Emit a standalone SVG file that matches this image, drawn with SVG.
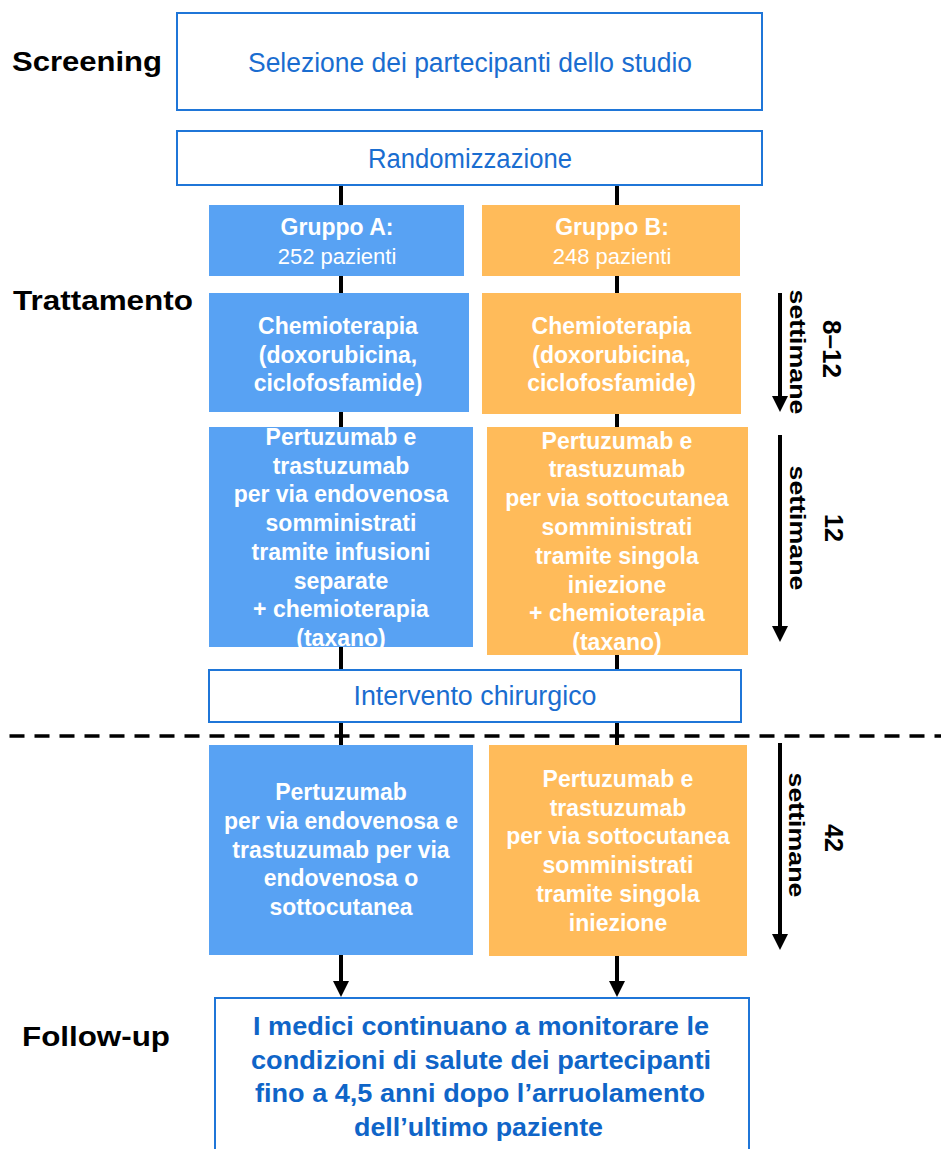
<svg xmlns="http://www.w3.org/2000/svg" width="941" height="1149" viewBox="0 0 941 1149">
<style>
.bg{fill:#ffffff}
.wbox{fill:#ffffff;stroke:#1f76d8;stroke-width:2}
.ba{fill:#58a2f3}
.bb{fill:#ffbb5a}
.side{font-family:"Liberation Sans",Arial,sans-serif;font-weight:bold;font-size:27px;fill:#000}
.btxt{font-family:"Liberation Sans",Arial,sans-serif;font-size:27px;fill:#1a6dd0;text-anchor:middle}
.wt{font-family:"Liberation Sans",Arial,sans-serif;font-weight:bold;font-size:23px;fill:#ffffff;text-anchor:middle}
.wr{font-family:"Liberation Sans",Arial,sans-serif;font-size:22px;fill:#ffffff;text-anchor:middle}
.ft{font-family:"Liberation Sans",Arial,sans-serif;font-weight:bold;font-size:26px;fill:#0f65c8;text-anchor:middle}
.dur{font-family:"Liberation Sans",Arial,sans-serif;font-weight:bold;font-size:22px;fill:#000;text-anchor:middle}
.num{font-family:"Liberation Sans",Arial,sans-serif;font-weight:bold;font-size:25px;fill:#000;text-anchor:middle}
.conn{stroke:#000;stroke-width:4;fill:none}
.dash{stroke:#000;stroke-width:3.5;stroke-dasharray:15 10;fill:none}
</style>
<defs>
<marker id="arr" viewBox="0 0 16 16" refX="1" refY="8" markerWidth="16" markerHeight="16" markerUnits="userSpaceOnUse" orient="auto">
<path d="M0,0 L16,8 L0,16 z" fill="#000"/>
</marker>
</defs>
<rect class="bg" x="0" y="0" width="941" height="1149"/>

<g id="connectors">
<line class="conn" x1="341" y1="186" x2="341" y2="982" marker-end="url(#arr)"/>
<line class="conn" x1="617" y1="186" x2="617" y2="982" marker-end="url(#arr)"/>
<line class="conn" x1="780" y1="293" x2="780" y2="397" marker-end="url(#arr)"/>
<line class="conn" x1="780" y1="435" x2="780" y2="627" marker-end="url(#arr)"/>
<line class="conn" x1="780" y1="743" x2="780" y2="935" marker-end="url(#arr)"/>
<line class="dash" x1="9.5" y1="736" x2="941" y2="736"/>
</g>

<g id="labels">
<text class="side" x="12" y="71" textLength="150" lengthAdjust="spacingAndGlyphs">Screening</text>
<text class="side" x="13" y="310" textLength="180" lengthAdjust="spacingAndGlyphs">Trattamento</text>
<text class="side" x="22" y="1046" textLength="148" lengthAdjust="spacingAndGlyphs">Follow-up</text>
</g>

<g id="duration1">
<text class="dur" transform="translate(790,352) rotate(90)" textLength="125" lengthAdjust="spacingAndGlyphs">settimane</text>
<text class="num" transform="translate(823,349) rotate(90)" textLength="58" lengthAdjust="spacingAndGlyphs">8–12</text>
</g>
<g id="duration2">
<text class="dur" transform="translate(790,528) rotate(90)" textLength="125" lengthAdjust="spacingAndGlyphs">settimane</text>
<text class="num" transform="translate(825,528) rotate(90)">12</text>
</g>
<g id="duration3">
<text class="dur" transform="translate(789,835) rotate(90)" textLength="125" lengthAdjust="spacingAndGlyphs">settimane</text>
<text class="num" transform="translate(825,838) rotate(90)">42</text>
</g>

<g id="screening">
<rect class="wbox" x="177" y="13" width="585" height="97"/>
<text class="btxt" x="470" y="72" textLength="444" lengthAdjust="spacingAndGlyphs">Selezione dei partecipanti dello studio</text>
</g>

<g id="randomizzazione">
<rect class="wbox" x="177" y="131" width="585" height="54"/>
<text class="btxt" x="470" y="168" textLength="204" lengthAdjust="spacingAndGlyphs">Randomizzazione</text>
</g>

<g id="gruppoA">
<rect class="ba" x="209" y="205" width="255" height="71"/>
<text class="wt" x="337" y="235">Gruppo A:</text>
<text class="wr" x="337" y="264">252 pazienti</text>
</g>

<g id="gruppoB">
<rect class="bb" x="482" y="205" width="258" height="71"/>
<text class="wt" x="612" y="235">Gruppo B:</text>
<text class="wr" x="612" y="264">248 pazienti</text>
</g>

<g id="chemioA">
<rect class="ba" x="209" y="293" width="260" height="119"/>
<text class="wt"><tspan x="338" y="334">Chemioterapia</tspan><tspan x="338" y="362.5">(doxorubicina,</tspan><tspan x="338" y="391">ciclofosfamide)</tspan></text>
</g>

<g id="chemioB">
<rect class="bb" x="482" y="293" width="259" height="121"/>
<text class="wt"><tspan x="611.5" y="334">Chemioterapia</tspan><tspan x="611.5" y="362.5">(doxorubicina,</tspan><tspan x="611.5" y="391">ciclofosfamide)</tspan></text>
</g>

<g id="pertA">
<rect class="ba" x="209" y="427" width="264" height="220"/>
<text class="wt"><tspan x="341" y="445">Pertuzumab e</tspan><tspan x="341" y="473.7">trastuzumab</tspan><tspan x="341" y="502.4">per via endovenosa</tspan><tspan x="341" y="531.1">somministrati</tspan><tspan x="341" y="559.8">tramite infusioni</tspan><tspan x="341" y="588.5">separate</tspan><tspan x="341" y="617.2">+ chemioterapia</tspan><tspan x="341" y="646">(taxano)</tspan></text>
</g>

<g id="pertB">
<rect class="bb" x="487" y="427" width="261" height="228"/>
<text class="wt"><tspan x="617" y="448.5">Pertuzumab e</tspan><tspan x="617" y="477.3">trastuzumab</tspan><tspan x="617" y="506.1">per via sottocutanea</tspan><tspan x="617" y="534.9">somministrati</tspan><tspan x="617" y="563.7">tramite singola</tspan><tspan x="617" y="592.5">iniezione</tspan><tspan x="617" y="621.3">+ chemioterapia</tspan><tspan x="617" y="650">(taxano)</tspan></text>
</g>

<g id="intervento">
<rect class="wbox" x="209" y="670" width="532" height="52"/>
<text class="btxt" x="475" y="705" textLength="243" lengthAdjust="spacingAndGlyphs">Intervento chirurgico</text>
</g>

<g id="postA">
<rect class="ba" x="209" y="745" width="264" height="210"/>
<text class="wt"><tspan x="341" y="800">Pertuzumab</tspan><tspan x="341" y="828.75">per via endovenosa e</tspan><tspan x="341" y="857.5">trastuzumab per via</tspan><tspan x="341" y="886.25">endovenosa o</tspan><tspan x="341" y="915">sottocutanea</tspan></text>
</g>

<g id="postB">
<rect class="bb" x="489" y="745" width="258" height="211"/>
<text class="wt"><tspan x="618" y="787">Pertuzumab e</tspan><tspan x="618" y="815.7">trastuzumab</tspan><tspan x="618" y="844.4">per via sottocutanea</tspan><tspan x="618" y="873.1">somministrati</tspan><tspan x="618" y="901.8">tramite singola</tspan><tspan x="618" y="930.5">iniezione</tspan></text>
</g>

<g id="followup">
<rect class="wbox" x="215" y="998" width="534" height="160"/>
<text class="ft" x="481" y="1035" textLength="456" lengthAdjust="spacingAndGlyphs">I medici continuano a monitorare le</text>
<text class="ft" x="481" y="1068.5" textLength="460" lengthAdjust="spacingAndGlyphs">condizioni di salute dei partecipanti</text>
<text class="ft" x="480" y="1102" textLength="450" lengthAdjust="spacingAndGlyphs">fino a 4,5 anni dopo l’arruolamento</text>
<text class="ft" x="478.5" y="1135.5" textLength="249" lengthAdjust="spacingAndGlyphs">dell’ultimo paziente</text>
</g>
</svg>
